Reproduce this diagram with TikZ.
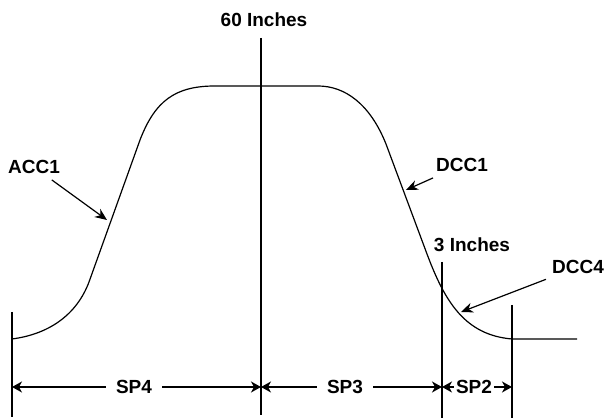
\documentclass[tikz,border=0pt]{standalone}
\usepackage{fontspec}
\setmainfont{Liberation Sans}
\usetikzlibrary{arrows.meta}
\definecolor{ink}{HTML}{000000}
\tikzset{
  profile/.style={draw=ink, line width=1.2pt, line join=round},
  guide/.style={draw=ink, line width=1.3pt},
  pointer/.style={draw=ink, line width=1.2pt, -{Stealth[length=12pt,width=10pt]}},
  dimarrow/.style={draw=ink, line width=1.2pt, -{Stealth[length=10pt,width=11pt,inset=3pt]}},
  lbl/.style={font=\fontsize{19}{19}\selectfont\bfseries, text=ink, inner sep=6pt},
  dimlbl/.style={lbl, inner xsep=10pt}
}

\begin{document}
\begin{tikzpicture}[x=1pt, y=1pt]
    \useasboundingbox (0,0) rectangle (616,419);
    \draw[profile] (12,80) .. controls (50,85) and (77,105) .. (89,137)
      -- (140,279) .. controls (155,318) and (175,333) .. (215,333)
      -- (318,333) .. controls (345,333) and (370,315) .. (386,275)
      -- (427,165) .. controls (445,117) and (465,84) .. (512,80) -- (577,80);
    \node[lbl] (in60) at (264,399) {60 Inches};
    \node[lbl] (in3) at (472,174) {3 Inches};
    \node[lbl] (acc1) at (34,252) {ACC1};
    \node[lbl] (dcc1) at (462,254) {DCC1};
    \node[lbl] (dcc4) at (578,152) {DCC4};
    \node[dimlbl] (sp4) at (134,32) {SP4};
    \node[dimlbl] (sp3) at (345,32) {SP3};
    \node[dimlbl, inner xsep=2pt] (sp2) at (474,32) {SP2};
    \coordinate (acc1 tip) at (107,199);
    \coordinate (dcc1 tip) at (406,229);
    \coordinate (dcc4 tip) at (461,107);
    \foreach \x/\ytop/\ybot [count=\i] in {12/107/2, 261/381/4, 442/157/1, 512/114/1}{
      \coordinate (v\i top) at (\x,\ytop);
      \coordinate (v\i bot) at (\x,\ybot);
      \coordinate (d\i) at (\x,32);
      \draw[guide] (v\i top) -- (v\i bot);
    }
    \draw[pointer] (acc1) -- (acc1 tip);
    \draw[pointer] (dcc1) -- (dcc1 tip);
    \draw[pointer] (dcc4) -- (dcc4 tip);
    \draw[dimarrow] (sp4) -- (d1);
    \draw[dimarrow] (sp4) -- (d2);
    \draw[dimarrow] (sp3) -- (d2);
    \draw[dimarrow] (sp3) -- (d3);
    \draw[dimarrow] (sp2) -- (d3);
    \draw[dimarrow] (sp2) -- (d4);
\end{tikzpicture}
\end{document}
